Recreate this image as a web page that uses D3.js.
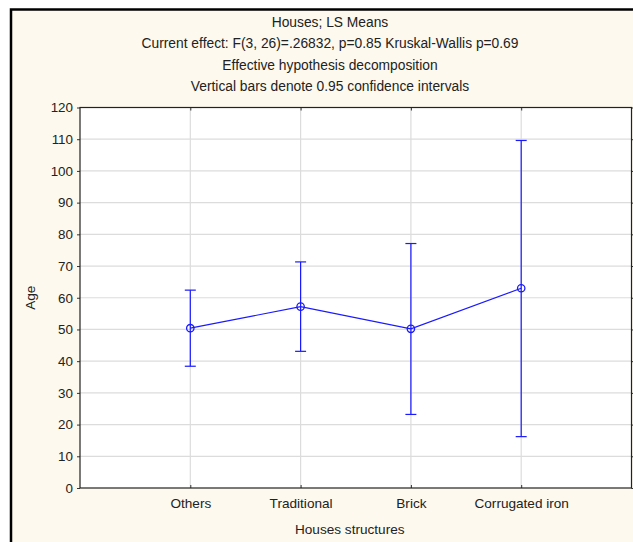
<!DOCTYPE html>
<html><head><meta charset="utf-8">
<script src="https://cdn.jsdelivr.net/npm/d3@7"></script>
<style>
html,body{margin:0;padding:0;background:#fff;}
svg{display:block;font-family:"Liberation Sans",Arial,sans-serif;}
</style></head>
<body>
<svg id="c" width="633" height="542"></svg>
<script>
const categories = ["Others", "Traditional", "Brick", "Corrugated iron"];
const means = [50.4, 57.2, 50.2, 63.0];
const lower = [38.4, 43.1, 23.2, 16.2];
const upper = [62.4, 71.3, 77.1, 109.6];
const yTicks = [0,10,20,30,40,50,60,70,80,90,100,110,120];
const titles = ["Houses; LS Means",
  "Current effect: F(3, 26)=.26832, p=0.85 Kruskal-Wallis p=0.69",
  "Effective hypothesis decomposition",
  "Vertical bars denote 0.95 confidence intervals"];
const xLabel = "Houses structures", yLabel = "Age";

const svg = d3.select("#c");
const blue = "#1a1aff";
const FS = 13.6;
// outer frame
svg.append("rect").attr("x",0).attr("y",0).attr("width",633).attr("height",542).attr("fill","#fff");
svg.append("rect").attr("x",11).attr("y",9.5).attr("width",630).attr("height",540)
  .attr("fill","#fdf9ee").attr("stroke","#000").attr("stroke-width",2.5);

const L=80, R=631.5, T=107.5, B=488;
const x = d3.scaleLinear().domain([0,5]).range([L,R]);
const y = d3.scaleLinear().domain([0,120]).range([B,T]);

svg.append("rect").attr("x",L).attr("y",T).attr("width",R-L).attr("height",B-T).attr("fill","#fff");

// gridlines
const g = svg.append("g");
g.selectAll("line.h").data(yTicks.slice(1,-1)).join("line")
  .attr("x1",L).attr("x2",R).attr("y1",d=>y(d)).attr("y2",d=>y(d))
  .attr("stroke","#dcdcdc").attr("stroke-width",1.2);
g.selectAll("line.v").data(categories).join("line")
  .attr("x1",(d,i)=>x(i+1)).attr("x2",(d,i)=>x(i+1)).attr("y1",T).attr("y2",B)
  .attr("stroke","#dcdcdc").attr("stroke-width",1.2);

// axes
const yAxis = d3.axisLeft(y).tickValues(yTicks).tickSize(3).tickPadding(4);
const ya = svg.append("g").attr("transform",`translate(${L},0)`).call(yAxis);
ya.select(".domain").remove();
ya.selectAll("text").attr("font-size",13.4).attr("fill","#222").attr("font-family","Liberation Sans, Arial, sans-serif");
ya.selectAll("line").attr("stroke","#333");
const yr = svg.append("g").attr("transform",`translate(${R},0)`).call(d3.axisLeft(y).tickValues(yTicks).tickSize(-3).tickFormat(""));
yr.select(".domain").remove(); yr.selectAll("line").attr("stroke","#333");

const xb = svg.append("g").attr("transform",`translate(0,${B})`)
  .call(d3.axisBottom(x).tickValues([1,2,3,4]).tickSize(-3).tickPadding(10).tickFormat(d=>categories[d-1]));
xb.select(".domain").remove();
xb.selectAll("text").attr("font-size",FS).attr("fill","#222").attr("font-family","Liberation Sans, Arial, sans-serif");
xb.selectAll("line").attr("stroke","#333");
const xt = svg.append("g").attr("transform",`translate(0,${T})`)
  .call(d3.axisTop(x).tickValues([1,2,3,4]).tickSize(-3).tickFormat(""));
xt.select(".domain").remove(); xt.selectAll("line").attr("stroke","#333");

svg.append("rect").attr("x",L).attr("y",T).attr("width",R-L).attr("height",B-T)
  .attr("fill","none").attr("stroke","#222").attr("stroke-width",1.2);

// titles
svg.selectAll("text.title").data(titles).join("text").attr("class","title")
  .attr("x",330).attr("y",(d,i)=>27+i*21.3).attr("text-anchor","middle")
  .attr("font-size",13.8).attr("fill","#222").text(d=>d);
svg.append("text").attr("x",(L+R)/2-6).attr("y",534).attr("text-anchor","middle")
  .attr("font-size",FS).attr("fill","#222").text(xLabel);
svg.append("text").attr("transform",`translate(35,${y(60)}) rotate(-90)`).attr("text-anchor","middle")
  .attr("font-size",FS).attr("fill","#222").text(yLabel);

// error bars
const eb = svg.append("g").attr("stroke",blue).attr("stroke-width",1.2);
categories.forEach((c,i)=>{
  const cx = x(i+1);
  eb.append("line").attr("x1",cx).attr("x2",cx).attr("y1",y(lower[i])).attr("y2",y(upper[i]));
  eb.append("line").attr("x1",cx-5.5).attr("x2",cx+5.5).attr("y1",y(lower[i])).attr("y2",y(lower[i]));
  eb.append("line").attr("x1",cx-5.5).attr("x2",cx+5.5).attr("y1",y(upper[i])).attr("y2",y(upper[i]));
});
const line = d3.line().x((d,i)=>x(i+1)).y(d=>y(d));
svg.append("path").datum(means).attr("d",line).attr("fill","none").attr("stroke",blue).attr("stroke-width",1.2);
svg.selectAll("circle.m").data(means).join("circle").attr("class","m")
  .attr("cx",(d,i)=>x(i+1)).attr("cy",d=>y(d)).attr("r",3.7)
  .attr("fill","none").attr("stroke",blue).attr("stroke-width",1.3);
</script>
</body></html>
